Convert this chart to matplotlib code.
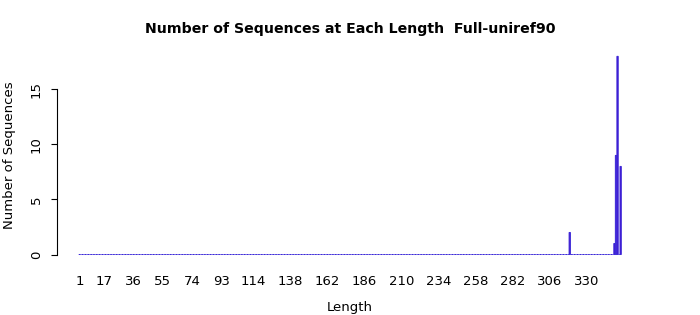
import matplotlib
matplotlib.use("Agg")
import matplotlib.pyplot as plt
import numpy as np

# lengths 1..352, counts are zero except for a few long sequences
lengths = list(range(1, 353))
peak_lengths = [319, 348, 349, 350, 352]
peak_counts = [2, 1, 9, 18, 8]
shown_labels = [1, 17, 36, 55, 74, 93, 114, 138, 162, 186, 210, 234, 258, 282, 306, 330]

counts = np.zeros(len(lengths))
for L, c in zip(peak_lengths, peak_counts):
    counts[lengths.index(L)] = c

fig = plt.figure(figsize=(7, 3.15), dpi=100)
# bottom chosen so that y=0 falls on a pixel centre (crisp baseline)
ax = fig.add_axes([57 / 700, 52.57 / 315, 586 / 700, 214 / 315])

ax.bar(lengths, counts, width=1 / 1.2, color="#4800c8", edgecolor="#3c2ad8",
       linewidth=0.72, snap=False)

ax.set_xlim(-13.5, 366.5)
ax.set_ylim(-0.72, 18.72)

for s in ["top", "right", "bottom"]:
    ax.spines[s].set_visible(False)
ax.spines["left"].set_bounds(0, 15)
ax.spines["left"].set_linewidth(0.8)

ax.set_yticks([0, 5, 10, 15])
ax.tick_params(axis="y", length=4.3, width=0.8, pad=6, labelsize=9.5)
for t in ax.get_yticklabels():
    t.set_rotation(90)
    t.set_va("center")

ax.set_xticks(shown_labels)
ax.set_xticklabels([str(v) for v in shown_labels])
ax.tick_params(axis="x", length=0, pad=9, labelsize=9.5)

ax.set_xlabel("Length", fontsize=9.5, labelpad=9.5)
ax.set_ylabel("Number of Sequences", fontsize=9.5, labelpad=10)
ax.set_title("Number of Sequences at Each Length  Full-uniref90",
             fontsize=10.2, fontweight="bold", pad=11)

fig.savefig("out.png", dpi=100)
